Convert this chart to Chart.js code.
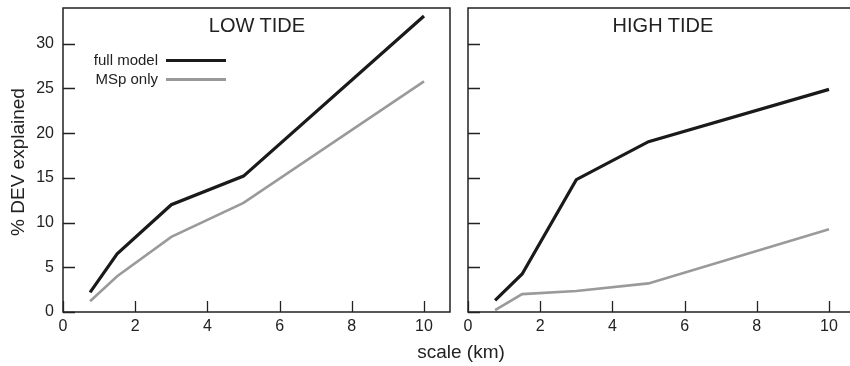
<!DOCTYPE html>
<html>
<head>
<meta charset="utf-8">
<script src="https://cdn.jsdelivr.net/npm/chart.js@4/dist/chart.umd.min.js"></script>
<style>
  html, body { margin:0; padding:0; overflow:hidden; background:#fff; width:850px; height:366px; }
  body { position:relative; font-family:"Liberation Sans", Arial, Helvetica, sans-serif; color:#222; }
  canvas { position:absolute; top:0; }
  #cLow { left:0; }
  #cHigh { left:458px; }
  .txt { position:absolute; white-space:nowrap; line-height:1; }
  .ptitle { font-size:20px; top:15px; width:200px; text-align:center; }
  .legrow { position:absolute; left:40px; width:186px; height:16px; font-size:15px; }
  .legrow span.t { position:absolute; right:68px; top:0; line-height:16px; }
  .legrow span.l { position:absolute; left:126px; width:60px; }
</style>
</head>
<body>
<canvas id="cLow" width="460" height="366"></canvas>
<canvas id="cHigh" width="400" height="366"></canvas>

<div class="txt ptitle" style="left:157px;">LOW TIDE</div>
<div class="txt ptitle" style="left:563px;">HIGH TIDE</div>

<div class="legrow" style="top:52px;"><span class="t">full model</span><span class="l" style="top:7px;height:3px;background:#1a1a1a;"></span></div>
<div class="legrow" style="top:71px;"><span class="t">MSp only</span><span class="l" style="top:7px;height:2.5px;background:#999;"></span></div>

<div class="txt" style="left:311px;top:342px;width:300px;text-align:center;font-size:19px;">scale (km)</div>
<div class="txt" style="left:-132px;top:152px;width:300px;height:20px;line-height:20px;text-align:center;font-size:19px;font-weight:normal;color:#222;transform:rotate(-90deg);">% DEV explained</div>

<script>
// ---- data ----
const scaleKm   = [0.75, 1.5, 3, 5, 10];
const lowFull   = [2.2, 6.5, 12.0, 15.2, 33.1];
const lowMsp    = [1.2, 4.0, 8.4, 12.2, 25.8];
const highFull  = [1.3, 4.25, 14.8, 19.05, 24.9];
const highMsp   = [0.2, 2.0, 2.35, 3.2, 9.25];
const seriesNames = ['full model', 'MSp only'];
const xTickStep = 2;
const yTickStep = 5;
const xMax = 10.72;
const yMax = 34;

const FONT = "'Liberation Sans', Arial, Helvetica, sans-serif";

const frameTicks = {
  id: 'frameTicks',
  afterDraw(chart) {
    const ctx = chart.ctx, a = chart.chartArea;
    const xs = chart.scales.x, ys = chart.scales.y;
    ctx.save();
    ctx.strokeStyle = '#222';
    ctx.lineWidth = 1.5;
    ctx.beginPath();
    ctx.rect(a.left, a.top, a.right - a.left, a.bottom - a.top);
    ctx.stroke();
    ctx.lineWidth = 1.3;
    ctx.beginPath();
    xs.ticks.forEach(t => {
      const px = Math.round(xs.getPixelForValue(t.value)) + 0.5;
      ctx.moveTo(px, a.bottom);
      ctx.lineTo(px, a.bottom - 11);
    });
    ys.ticks.forEach(t => {
      const py = Math.round(ys.getPixelForValue(t.value)) + 0.5;
      ctx.moveTo(a.left, py);
      ctx.lineTo(a.left + 12, py);
    });
    ctx.stroke();
    ctx.restore();
  }
};

function noPad(s) { s.paddingTop = 0; s.paddingBottom = 0; s.paddingLeft = 0; s.paddingRight = 0; }

function makeChart(id, full, msp, showYLabels, yWidth, padRight) {
  return new Chart(document.getElementById(id), {
    type: 'line',
    data: {
      datasets: [
        { label: seriesNames[0], data: scaleKm.map((x, i) => ({x, y: full[i]})),
          borderColor: '#1a1a1a', borderWidth: 3.2, pointRadius: 0, tension: 0, fill: false },
        { label: seriesNames[1], data: scaleKm.map((x, i) => ({x, y: msp[i]})),
          borderColor: '#9a9a9a', borderWidth: 2.6, pointRadius: 0, tension: 0, fill: false }
      ]
    },
    options: {
      responsive: false,
      devicePixelRatio: 1,
      animation: false,
      layout: { padding: { left: 0, right: padRight, top: 8, bottom: 0 } },
      plugins: { legend: { display: false }, tooltip: { enabled: false }, title: { display: false } },
      scales: {
        x: {
          type: 'linear', min: 0, max: xMax,
          ticks: { stepSize: xTickStep, includeBounds: false, padding: 5, color: '#222',
                   font: { family: FONT, size: 16 }, maxRotation: 0 },
          grid: { display: false, drawTicks: false },
          border: { display: false },
          afterFit(s) { s.height = 54; noPad(s); }
        },
        y: {
          type: 'linear', min: 0, max: yMax,
          ticks: { stepSize: yTickStep, includeBounds: false, padding: 9, color: '#222',
                   display: showYLabels, font: { family: FONT, size: 16 } },
          grid: { display: false, drawTicks: false },
          border: { display: false },
          afterFit(s) { s.width = yWidth; noPad(s); }
        }
      }
    },
    plugins: [frameTicks]
  });
}

makeChart('cLow', lowFull, lowMsp, true, 63, 10);
makeChart('cHigh', highFull, highMsp, false, 10, 3);
</script>
</body>
</html>
